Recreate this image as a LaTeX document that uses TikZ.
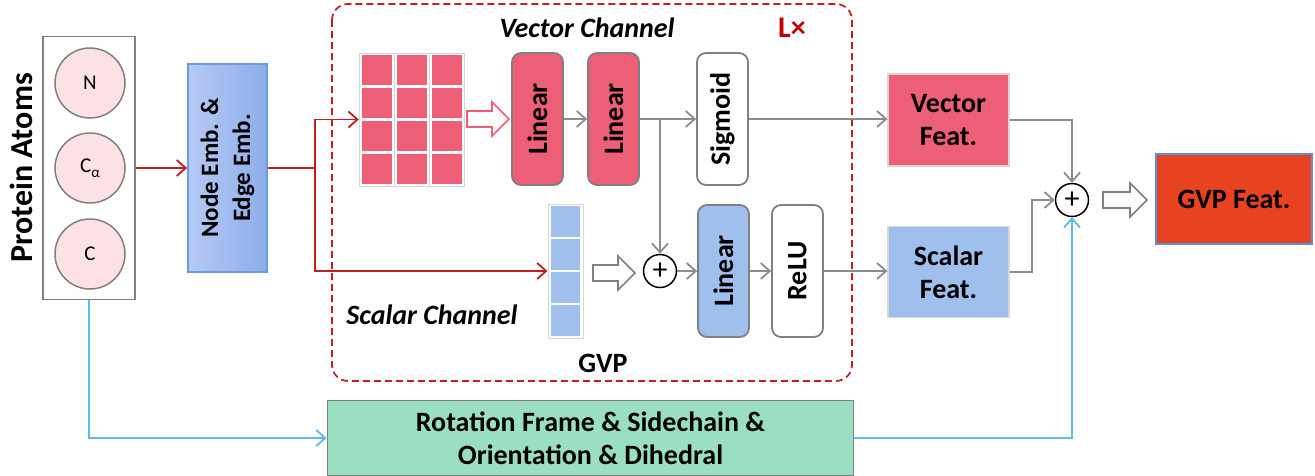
\documentclass[tikz,border=0pt]{standalone}
\usepackage{fontspec}
\setmainfont{Carlito}
\usetikzlibrary{arrows.meta}
\definecolor{pinkc}{RGB}{236,95,118}
\definecolor{lpink}{RGB}{252,226,229}
\definecolor{bluec}{RGB}{159,191,236}
\definecolor{embL}{RGB}{182,202,243}
\definecolor{embR}{RGB}{140,174,234}
\definecolor{embB}{RGB}{108,155,224}
\definecolor{greenc}{RGB}{155,223,194}
\definecolor{gvpc}{RGB}{232,67,32}
\definecolor{gvpb}{RGB}{91,142,214}
\definecolor{boxgray}{RGB}{128,128,128}
\definecolor{linegray}{RGB}{140,140,140}
\definecolor{redl}{RGB}{192,32,36}
\definecolor{bluel}{RGB}{99,184,232}
\definecolor{darkred}{RGB}{192,0,0}
\definecolor{cellb}{RGB}{215,215,215}
\newcommand\harrowshape[5]{% x1 x2 headstart y color
  \draw[#5, line width=1.6pt, fill=white] (#1,#4-8) -- (#3,#4-8) -- (#3,#4-17) -- (#2,#4) -- (#3,#4+17) -- (#3,#4+8) -- (#1,#4+8) -- cycle;}
\tikzset{
  lab/.style={font=\fontsize{28}{33}\selectfont\bfseries},
  vbox/.style={draw=boxgray, line width=1.8pt, rounded corners=9pt, inner sep=0pt, lab},
  fbox/.style={draw=cellb, line width=1.2pt, minimum width=121pt, minimum height=92pt, inner sep=0pt, lab, align=center},
  atom/.style={circle, draw=boxgray, line width=1.5pt, fill=lpink, minimum size=70pt, inner sep=0pt, font=\fontsize{21}{21}\selectfont},
  plusc/.style={circle, draw=black, line width=1.5pt, fill=white, minimum size=33pt, inner sep=0pt, font=\fontsize{30}{30}\selectfont},
  tipg/.style={-{Straight Barb[length=9pt,width=16pt,line width=1.8pt]}},
  garrow/.style={draw=linegray, line width=1.8pt, tipg},
  gline/.style={draw=linegray, line width=1.8pt},
  rline/.style={draw=redl, line width=1.8pt},
  rarrow/.style={rline, tipg},
  bline/.style={draw=bluel, line width=1.8pt},
  barrow/.style={bline, tipg},
  cell/.style={fill=#1, minimum width=30pt, minimum height=30pt, inner sep=0pt},
}
\begin{document}
\begin{tikzpicture}[x=1pt,y=-1pt]
\useasboundingbox (0,0) rectangle (1315,475);
% dashed GVP frame
\draw[redl, line width=1.7pt, dash pattern=on 7pt off 4pt, rounded corners=16pt] (332,4) rectangle (852,381);
\node[lab, font=\fontsize{28}{33}\selectfont\bfseries\itshape] (vc) at (587,28) {Vector Channel};
\node[lab, text=darkred, font=\fontsize{30}{33}\selectfont\bfseries] (lx) at (792,28) {L×};
\node[lab, font=\fontsize{28}{33}\selectfont\bfseries\itshape] (sc) at (432,315) {Scalar Channel};
\node[lab] (gvp) at (603,363) {GVP};
% protein atoms
\node[draw=boxgray, line width=1.8pt, minimum width=92pt, minimum height=263pt, inner sep=0pt] (atoms) at (89,168) {};
\node[atom] (n) at (90,83) {N};
\node[atom] (ca) at (90,168) {C\raisebox{-5pt}{\fontsize{15}{15}\selectfont α}};
\node[atom] (c) at (90,254) {C};
\node[lab, font=\fontsize{32}{36}\selectfont\bfseries, rotate=90] (pa) at (21,168) {Protein Atoms};
% embedding
\node[draw=embB, line width=1.8pt, left color=embL, right color=embR, minimum width=79pt, minimum height=208pt, inner sep=0pt] (emb) at (227.5,168) {};
\node[font=\fontsize{25}{32}\selectfont\bfseries, align=center, rotate=90] (embt) at (227.5,168) {Node Emb. \&\\Edge Emb.};
% vector matrix
\node[minimum width=105pt, minimum height=133pt, inner sep=0pt] (mat) at (411.5,119.5) {};
\foreach \i in {0,1,2} {
  \draw[cellb, line width=1pt, fill=white] (359.5+35*\i,53) rectangle (394+35*\i,186);
  \foreach \j in {0,1,2,3} {
    \node[cell=pinkc] (m\i\j) at (377+35*\i,69.5+33*\j) {};
  }
}
% scalar vector
\node[draw=cellb, line width=1pt, fill=white, minimum width=35pt, minimum height=134pt, inner sep=0pt] (sv) at (565.5,271) {};
\foreach \j in {0,1,2,3} {
  \node[fill=bluec, minimum width=29pt, minimum height=30.5pt, inner sep=0pt] (s\j) at (565.5,221.5+33*\j) {};
}
% hollow arrows
\harrowshape{467}{509}{492}{119}{pinkc}
\harrowshape{593}{635}{618}{273}{boxgray}
\harrowshape{1103}{1147}{1130}{200}{boxgray}
% vector channel boxes
\node[vbox, fill=pinkc, rotate=90, minimum width=132pt, minimum height=51pt] (lin1) at (537.5,119) {Linear};
\node[vbox, fill=pinkc, rotate=90, minimum width=132pt, minimum height=51pt] (lin2) at (613.5,119) {Linear};
\node[vbox, fill=white, rotate=90, minimum width=132pt, minimum height=51pt] (sig) at (722.5,119) {Sigmoid};
\node[vbox, fill=bluec, rotate=90, minimum width=132pt, minimum height=51pt] (lin3) at (723.5,271) {Linear};
\node[vbox, fill=white, rotate=90, minimum width=132pt, minimum height=51pt] (relu) at (797.5,271) {ReLU};
\node[plusc] (p1) at (660,271) {+};
% feature boxes
\node[fbox, fill=pinkc] (vf) at (948.5,120) {Vector\\Feat.};
\node[fbox, fill=bluec, minimum height=91pt] (sf) at (948.5,272) {Scalar\\Feat.};
\node[plusc] (p2) at (1072,200) {+};
\node[draw=gvpb, line width=1.8pt, fill=gvpc, minimum width=156pt, minimum height=90pt, inner sep=0pt, lab] (gf) at (1234,199) {GVP Feat.};
% green box
\node[draw=boxgray, line width=1.8pt, fill=greenc, minimum width=526pt, minimum height=75pt, inner sep=0pt, lab, align=center] (gr) at (590.5,438) {Rotation Frame \& Sidechain \&\\Orientation \& Dihedral};
% red connectors
\coordinate (split) at (315,168);
\draw[rarrow] (atoms.east) -- (emb.west);
\draw[rline] (emb.east) -- (split);
\draw[rarrow] (split) |- (mat.west);
\draw[rarrow] (split) |- (sv.west);
% gray connectors
\draw[garrow] (lin1.south) -- (lin2.north);
\draw[garrow] (lin2.south) -- (sig.north);
\coordinate (br) at (660,119);
\draw[garrow] (br) -- (p1.north);
\draw[garrow] (p1.east) -- (lin3.north);
\draw[garrow] (lin3.south) -- (relu.north);
\draw[garrow] (relu.south) -- (sf.west |- relu.south);
\draw[garrow] (sig.south) -- (vf.west |- sig.south);
\draw[garrow] (vf.east) -| (p2.north);
\coordinate (sbend) at (1032,272);
\draw[garrow] (sf.east) -- (sbend) |- (p2.west);
% blue connectors
\draw[barrow] (atoms.south) |- (gr.west);
\draw[barrow] (gr.east) -| (p2.south);
\end{tikzpicture}
\end{document}
